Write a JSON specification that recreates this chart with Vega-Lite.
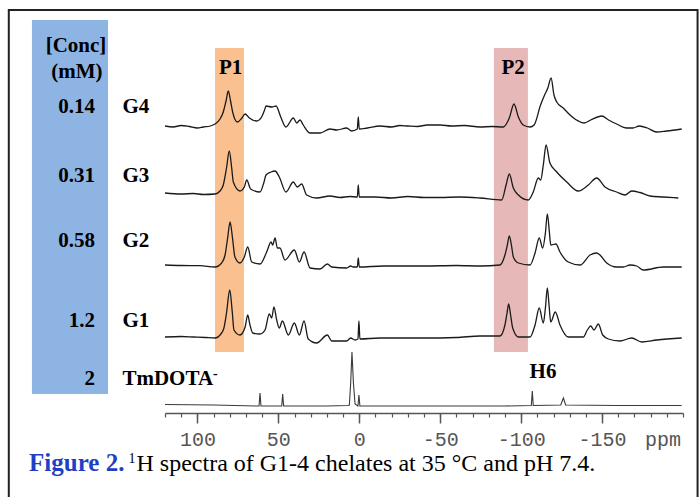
{
"$schema":"https://vega.github.io/schema/vega-lite/v6.json",
"width":518,"height":403,
"autosize":{"type":"none"},
"padding":{"left":165,"top":10,"right":16,"bottom":84},
"background":"white",
"config":{"view":{"stroke":null}},
"resolve":{"axis":{"x":"independent","y":"independent"}},
"datasets":{
"spectra":[
{"s":"G4","x":120,"y":287},{"s":"G4","x":115,"y":286},{"s":"G4","x":110,"y":287.5},{"s":"G4","x":105,"y":286.5},{"s":"G4","x":100,"y":285},{"s":"G4","x":96.3,"y":286},{"s":"G4","x":92,"y":287},{"s":"G4","x":89.1,"y":289},{"s":"G4","x":86,"y":294},{"s":"G4","x":84,"y":301},{"s":"G4","x":82.3,"y":312},{"s":"G4","x":80.9,"y":322},{"s":"G4","x":79.5,"y":312},{"s":"G4","x":78.2,"y":301},{"s":"G4","x":75.3,"y":291},{"s":"G4","x":72.5,"y":295},{"s":"G4","x":70.6,"y":299},{"s":"G4","x":67.9,"y":295},{"s":"G4","x":63.4,"y":292},{"s":"G4","x":60.3,"y":296},{"s":"G4","x":58.5,"y":303},{"s":"G4","x":57.6,"y":307},{"s":"G4","x":54,"y":306},{"s":"G4","x":51.4,"y":307},{"s":"G4","x":48.5,"y":296},{"s":"G4","x":45.3,"y":286},{"s":"G4","x":40.7,"y":295},{"s":"G4","x":38.6,"y":290},{"s":"G4","x":36.6,"y":293},{"s":"G4","x":34.6,"y":288},{"s":"G4","x":30.4,"y":280},{"s":"G4","x":24.2,"y":280},{"s":"G4","x":18.1,"y":284},{"s":"G4","x":13.9,"y":283},{"s":"G4","x":7.8,"y":285},{"s":"G4","x":4.7,"y":282},{"s":"G4","x":1.2,"y":284},{"s":"G4","x":0.6,"y":296},{"s":"G4","x":0,"y":284},{"s":"G4","x":-5,"y":285},{"s":"G4","x":-12.8,"y":287},{"s":"G4","x":-20,"y":286},{"s":"G4","x":-25,"y":287.5},{"s":"G4","x":-30,"y":287},{"s":"G4","x":-36,"y":286.5},{"s":"G4","x":-42,"y":288},{"s":"G4","x":-50,"y":288},{"s":"G4","x":-57,"y":287},{"s":"G4","x":-65,"y":287.5},{"s":"G4","x":-74.6,"y":286},{"s":"G4","x":-82,"y":286.5},{"s":"G4","x":-89,"y":286},{"s":"G4","x":-92.7,"y":295},{"s":"G4","x":-95.6,"y":309},{"s":"G4","x":-98.3,"y":296},{"s":"G4","x":-101.3,"y":288},{"s":"G4","x":-105.5,"y":286},{"s":"G4","x":-108,"y":288},{"s":"G4","x":-112,"y":308},{"s":"G4","x":-114.5,"y":318},{"s":"G4","x":-116.5,"y":325},{"s":"G4","x":-118.5,"y":335},{"s":"G4","x":-120.3,"y":318},{"s":"G4","x":-122,"y":311},{"s":"G4","x":-126,"y":305},{"s":"G4","x":-130.2,"y":298},{"s":"G4","x":-136.6,"y":291},{"s":"G4","x":-139,"y":290},{"s":"G4","x":-143,"y":293},{"s":"G4","x":-149.8,"y":297},{"s":"G4","x":-154,"y":293},{"s":"G4","x":-159,"y":289},{"s":"G4","x":-165,"y":285},{"s":"G4","x":-169,"y":285},{"s":"G4","x":-173,"y":287},{"s":"G4","x":-178,"y":285},{"s":"G4","x":-183.7,"y":281},{"s":"G4","x":-189.9,"y":282},{"s":"G4","x":-199.2,"y":284},
{"s":"G3","x":120,"y":220},{"s":"G3","x":110,"y":219},{"s":"G3","x":102.5,"y":219.5},{"s":"G3","x":96.3,"y":218.5},{"s":"G3","x":89.1,"y":219},{"s":"G3","x":86,"y":222},{"s":"G3","x":84,"y":228},{"s":"G3","x":82,"y":245},{"s":"G3","x":80.3,"y":262},{"s":"G3","x":78.8,"y":245},{"s":"G3","x":77.8,"y":231},{"s":"G3","x":73.7,"y":222},{"s":"G3","x":71,"y":226},{"s":"G3","x":69.5,"y":233},{"s":"G3","x":67.1,"y":224},{"s":"G3","x":61.3,"y":221},{"s":"G3","x":59,"y":230},{"s":"G3","x":57.6,"y":238},{"s":"G3","x":54.5,"y":241},{"s":"G3","x":52,"y":242},{"s":"G3","x":49.4,"y":236},{"s":"G3","x":45.3,"y":221},{"s":"G3","x":40.7,"y":231},{"s":"G3","x":38.3,"y":226},{"s":"G3","x":35.6,"y":229},{"s":"G3","x":32.5,"y":218},{"s":"G3","x":26.3,"y":215},{"s":"G3","x":18.1,"y":217},{"s":"G3","x":11.9,"y":215.5},{"s":"G3","x":5.7,"y":216.5},{"s":"G3","x":1.2,"y":216},{"s":"G3","x":0.6,"y":228},{"s":"G3","x":0,"y":216},{"s":"G3","x":-10,"y":216},{"s":"G3","x":-20,"y":215},{"s":"G3","x":-30,"y":216.5},{"s":"G3","x":-40,"y":215.5},{"s":"G3","x":-50,"y":215.5},{"s":"G3","x":-62,"y":216},{"s":"G3","x":-74.6,"y":215},{"s":"G3","x":-88,"y":213},{"s":"G3","x":-90.7,"y":228},{"s":"G3","x":-92.7,"y":239},{"s":"G3","x":-95.2,"y":225},{"s":"G3","x":-98.3,"y":218},{"s":"G3","x":-104.4,"y":213},{"s":"G3","x":-107.5,"y":221},{"s":"G3","x":-110.6,"y":235},{"s":"G3","x":-112.1,"y":233},{"s":"G3","x":-113.7,"y":248},{"s":"G3","x":-115.4,"y":268},{"s":"G3","x":-117.8,"y":250},{"s":"G3","x":-122,"y":241},{"s":"G3","x":-128.2,"y":231},{"s":"G3","x":-135.3,"y":222},{"s":"G3","x":-141.5,"y":228},{"s":"G3","x":-146.7,"y":235},{"s":"G3","x":-151.8,"y":226},{"s":"G3","x":-159,"y":221},{"s":"G3","x":-164.2,"y":218},{"s":"G3","x":-168.3,"y":222},{"s":"G3","x":-173.4,"y":220.5},{"s":"G3","x":-179.6,"y":217},{"s":"G3","x":-187.8,"y":216},{"s":"G3","x":-197.1,"y":215},
{"s":"G2","x":120,"y":148},{"s":"G2","x":110,"y":147.5},{"s":"G2","x":98.4,"y":147.3},{"s":"G2","x":89.1,"y":146},{"s":"G2","x":85,"y":150},{"s":"G2","x":82.9,"y":158},{"s":"G2","x":81.3,"y":175},{"s":"G2","x":79.8,"y":191},{"s":"G2","x":78.3,"y":175},{"s":"G2","x":76.8,"y":156},{"s":"G2","x":73.7,"y":150},{"s":"G2","x":71,"y":156},{"s":"G2","x":68.9,"y":166},{"s":"G2","x":66.4,"y":151},{"s":"G2","x":61.3,"y":149},{"s":"G2","x":57.2,"y":161},{"s":"G2","x":54.5,"y":171},{"s":"G2","x":53.5,"y":168},{"s":"G2","x":52,"y":175},{"s":"G2","x":50.6,"y":165},{"s":"G2","x":49,"y":165},{"s":"G2","x":45.9,"y":153},{"s":"G2","x":40.1,"y":163},{"s":"G2","x":37,"y":151},{"s":"G2","x":34.1,"y":161},{"s":"G2","x":30.4,"y":145},{"s":"G2","x":24.2,"y":144},{"s":"G2","x":19.7,"y":149},{"s":"G2","x":17,"y":146},{"s":"G2","x":7.8,"y":145},{"s":"G2","x":5.3,"y":147},{"s":"G2","x":3.7,"y":146},{"s":"G2","x":1.2,"y":146},{"s":"G2","x":0.6,"y":155},{"s":"G2","x":0,"y":146},{"s":"G2","x":-15,"y":147},{"s":"G2","x":-40,"y":147},{"s":"G2","x":-60,"y":147.5},{"s":"G2","x":-74.6,"y":147},{"s":"G2","x":-86.9,"y":148},{"s":"G2","x":-90,"y":158},{"s":"G2","x":-91.5,"y":168},{"s":"G2","x":-92.7,"y":177},{"s":"G2","x":-94,"y":168},{"s":"G2","x":-95.2,"y":156},{"s":"G2","x":-98.3,"y":150},{"s":"G2","x":-105.5,"y":148},{"s":"G2","x":-108.6,"y":160},{"s":"G2","x":-111.2,"y":175},{"s":"G2","x":-113.3,"y":165},{"s":"G2","x":-115,"y":180},{"s":"G2","x":-116.2,"y":199},{"s":"G2","x":-117.5,"y":180},{"s":"G2","x":-118.3,"y":168},{"s":"G2","x":-121.5,"y":169},{"s":"G2","x":-124,"y":161},{"s":"G2","x":-129.1,"y":151},{"s":"G2","x":-136.4,"y":148},{"s":"G2","x":-142.6,"y":158},{"s":"G2","x":-146.7,"y":160},{"s":"G2","x":-148.7,"y":158},{"s":"G2","x":-152.9,"y":150},{"s":"G2","x":-159,"y":146},{"s":"G2","x":-163.1,"y":146},{"s":"G2","x":-167.3,"y":148},{"s":"G2","x":-171.4,"y":147},{"s":"G2","x":-175.5,"y":143},{"s":"G2","x":-187.8,"y":146},{"s":"G2","x":-199.2,"y":146},
{"s":"G1","x":120,"y":76},{"s":"G1","x":110,"y":76.5},{"s":"G1","x":102.5,"y":76},{"s":"G1","x":95,"y":75.5},{"s":"G1","x":89.1,"y":75},{"s":"G1","x":85.5,"y":79},{"s":"G1","x":83.6,"y":85},{"s":"G1","x":82,"y":100},{"s":"G1","x":80,"y":123},{"s":"G1","x":78.5,"y":102},{"s":"G1","x":77.4,"y":83},{"s":"G1","x":73.7,"y":78},{"s":"G1","x":70.5,"y":86},{"s":"G1","x":68.9,"y":98},{"s":"G1","x":67.5,"y":88},{"s":"G1","x":65.8,"y":80},{"s":"G1","x":61.3,"y":79},{"s":"G1","x":58.2,"y":83},{"s":"G1","x":55.6,"y":99},{"s":"G1","x":54.1,"y":95},{"s":"G1","x":52.7,"y":106},{"s":"G1","x":51,"y":93},{"s":"G1","x":49.4,"y":85},{"s":"G1","x":47.5,"y":92},{"s":"G1","x":43.8,"y":78},{"s":"G1","x":40.1,"y":90},{"s":"G1","x":37,"y":78},{"s":"G1","x":34.1,"y":92},{"s":"G1","x":31.5,"y":74},{"s":"G1","x":26.3,"y":70},{"s":"G1","x":19.7,"y":78},{"s":"G1","x":17,"y":72},{"s":"G1","x":7.8,"y":72},{"s":"G1","x":5.3,"y":75},{"s":"G1","x":2.6,"y":73},{"s":"G1","x":0.8,"y":74},{"s":"G1","x":0.2,"y":92},{"s":"G1","x":-0.4,"y":74},{"s":"G1","x":-12.8,"y":75},{"s":"G1","x":-40,"y":75},{"s":"G1","x":-60,"y":75.5},{"s":"G1","x":-74.6,"y":77},{"s":"G1","x":-86.9,"y":77},{"s":"G1","x":-90,"y":88},{"s":"G1","x":-91.3,"y":100},{"s":"G1","x":-92.3,"y":109},{"s":"G1","x":-93.5,"y":98},{"s":"G1","x":-94.8,"y":85},{"s":"G1","x":-98.3,"y":76},{"s":"G1","x":-105.5,"y":76},{"s":"G1","x":-108.6,"y":88},{"s":"G1","x":-111.2,"y":105},{"s":"G1","x":-113.7,"y":90},{"s":"G1","x":-115,"y":105},{"s":"G1","x":-116.2,"y":125},{"s":"G1","x":-117.4,"y":105},{"s":"G1","x":-118.3,"y":91},{"s":"G1","x":-121.1,"y":101},{"s":"G1","x":-124,"y":88},{"s":"G1","x":-129.1,"y":76},{"s":"G1","x":-138.4,"y":76},{"s":"G1","x":-140.9,"y":83},{"s":"G1","x":-143,"y":87},{"s":"G1","x":-145,"y":83},{"s":"G1","x":-147.7,"y":89},{"s":"G1","x":-150.4,"y":78},{"s":"G1","x":-153.9,"y":74},{"s":"G1","x":-161.1,"y":72},{"s":"G1","x":-168.3,"y":75},{"s":"G1","x":-174.5,"y":71},{"s":"G1","x":-183.8,"y":73},{"s":"G1","x":-199.2,"y":75}
],
"tm":[
{"x":120,"y":8.5},{"x":90,"y":8},{"x":63.4,"y":7},{"x":61.9,"y":7},{"x":61.3,"y":20},{"x":60.7,"y":7},{"x":47.9,"y":7},{"x":47.3,"y":19},{"x":46.7,"y":7},{"x":20,"y":7},{"x":7,"y":7.5},{"x":6.1,"y":8},{"x":5.3,"y":30},{"x":4.5,"y":61},{"x":3.6,"y":30},{"x":2.6,"y":9},{"x":0.8,"y":7},{"x":0.2,"y":18},{"x":-0.4,"y":7},{"x":-30,"y":7},{"x":-60,"y":7},{"x":-90,"y":7},{"x":-106.3,"y":7.5},{"x":-106.9,"y":22},{"x":-107.5,"y":7.5},{"x":-124.5,"y":8},{"x":-126.1,"y":15},{"x":-127.5,"y":8},{"x":-160,"y":7.5},{"x":-199.2,"y":7.5}
]
},
"layer":[
{"data":{"values":[{"x1":216.5,"x2":-209,"y1":403,"y2":-100}]},
 "mark":{"type":"rect","filled":false,"color":"#222222","strokeWidth":2},
 "encoding":{"x":{"field":"x1","type":"quantitative","scale":{"domain":[-200,120],"reverse":true,"nice":false,"zero":false},"axis":null},"x2":{"field":"x2"},
 "y":{"field":"y1","type":"quantitative","scale":{"domain":[0,403],"nice":false,"zero":false},"axis":null},"y2":{"field":"y2"}}},
{"data":{"values":[{"x1":202.2,"x2":155.2,"y1":393,"y2":19}]},
 "mark":{"type":"rect","color":"#8DB4E2","opacity":1},
 "encoding":{"x":{"field":"x1","type":"quantitative","axis":null},"x2":{"field":"x2"},"y":{"field":"y1","type":"quantitative","axis":null},"y2":{"field":"y2"}}},
{"data":{"values":[{"x1":89.1,"x2":71.2,"y1":365,"y2":61}]},
 "mark":{"type":"rect","color":"#FAC08F","opacity":1},
 "encoding":{"x":{"field":"x1","type":"quantitative","axis":null},"x2":{"field":"x2"},"y":{"field":"y1","type":"quantitative","axis":null},"y2":{"field":"y2"}}},
{"data":{"values":[{"x1":-83.2,"x2":-104.2,"y1":365,"y2":61}]},
 "mark":{"type":"rect","color":"#E6B8B7","opacity":1},
 "encoding":{"x":{"field":"x1","type":"quantitative","axis":null},"x2":{"field":"x2"},"y":{"field":"y1","type":"quantitative","axis":null},"y2":{"field":"y2"}}},
{"data":{"name":"spectra"},
 "mark":{"type":"line","color":"#1a1a1a","strokeWidth":1.3,"interpolate":"monotone"},
 "encoding":{"x":{"field":"x","type":"quantitative","axis":{"orient":"bottom","values":[100,50,0,-50,-100,-150],"labelExpr":"'' + datum.value","tickSize":10,"tickColor":"#555555","tickWidth":1.5,"domain":true,"domainColor":"#555555","domainWidth":1.5,"grid":false,"title":null,"labelFont":"Liberation Mono","labelFontSize":20,"labelColor":"#555555","labelBaseline":"alphabetic","labelPadding":22,"labelFlush":false,"labelOverlap":false}},
 "y":{"field":"y","type":"quantitative","axis":null},"detail":{"field":"s"}}},
{"data":{"name":"tm"},
 "mark":{"type":"line","color":"#3a3a3a","strokeWidth":1.1},
 "encoding":{"x":{"field":"x","type":"quantitative","axis":{"orient":"bottom","values":[120,110,100,90,80,70,60,50,40,30,20,10,0,-10,-20,-30,-40,-50,-60,-70,-80,-90,-100,-110,-120,-130,-140,-150,-160,-170,-180,-190,-200],"tickSize":4,"tickColor":"#555555","tickWidth":1.2,"domain":false,"labels":false,"grid":false,"title":null}},
 "y":{"field":"y","type":"quantitative","axis":null}}},
{"data":{"values":[{"x":175,"y":361,"t":"[Conc]"},{"x":174.4,"y":335,"t":"(mM)"},{"x":79.5,"y":339,"t":"P1"},{"x":-95,"y":339,"t":"P2"},{"x":-113.5,"y":34.7,"t":"H6"}]},
 "mark":{"type":"text","font":"Liberation Serif","fontWeight":"bold","fontSize":21,"align":"center","baseline":"alphabetic","color":"#000000"},
 "encoding":{"x":{"field":"x","type":"quantitative","axis":null},"y":{"field":"y","type":"quantitative","axis":null},"text":{"field":"t"}}},
{"data":{"values":[{"x":163.2,"y":300,"t":"0.14"},{"x":163.2,"y":231,"t":"0.31"},{"x":163.2,"y":166,"t":"0.58"},{"x":163.2,"y":86,"t":"1.2"},{"x":163.2,"y":28,"t":"2"}]},
 "mark":{"type":"text","font":"Liberation Serif","fontWeight":"bold","fontSize":21,"align":"right","baseline":"alphabetic","color":"#000000"},
 "encoding":{"x":{"field":"x","type":"quantitative","axis":null},"y":{"field":"y","type":"quantitative","axis":null},"text":{"field":"t"}}},
{"data":{"values":[{"x":146.3,"y":300,"t":"G4"},{"x":146.3,"y":231,"t":"G3"},{"x":146.3,"y":166,"t":"G2"},{"x":146.3,"y":86,"t":"G1"},{"x":146.3,"y":28,"t":"TmDOTA"}]},
 "mark":{"type":"text","font":"Liberation Serif","fontWeight":"bold","fontSize":21,"align":"left","baseline":"alphabetic","color":"#000000"},
 "encoding":{"x":{"field":"x","type":"quantitative","axis":null},"y":{"field":"y","type":"quantitative","axis":null},"text":{"field":"t"}}},
{"data":{"values":[{"x":90.3,"y":39,"t":"-"}]},
 "mark":{"type":"text","font":"Liberation Serif","fontWeight":"bold","fontSize":14,"align":"left","baseline":"middle","color":"#000000"},
 "encoding":{"x":{"field":"x","type":"quantitative","axis":null},"y":{"field":"y","type":"quantitative","axis":null},"text":{"field":"t"}}},
{"data":{"values":[{"x":204,"y":-58,"t":"Figure 2."}]},
 "mark":{"type":"text","font":"Liberation Serif","fontWeight":"bold","fontSize":25,"align":"left","baseline":"alphabetic","color":"#1F3FC4"},
 "encoding":{"x":{"field":"x","type":"quantitative","axis":null},"y":{"field":"y","type":"quantitative","axis":null},"text":{"field":"t"}}},
{"data":{"values":[{"x":142.6,"y":-50,"t":"1"}]},
 "mark":{"type":"text","font":"Liberation Serif","fontSize":14,"align":"left","baseline":"alphabetic","color":"#000000"},
 "encoding":{"x":{"field":"x","type":"quantitative","axis":null},"y":{"field":"y","type":"quantitative","axis":null},"text":{"field":"t"}}},
{"data":{"values":[{"x":137.6,"y":-58,"t":"H spectra of G1-4 chelates at 35 °C and pH 7.4."}]},
 "mark":{"type":"text","font":"Liberation Serif","fontSize":24,"align":"left","baseline":"alphabetic","color":"#000000"},
 "encoding":{"x":{"field":"x","type":"quantitative","axis":null},"y":{"field":"y","type":"quantitative","axis":null},"text":{"field":"t"}}},
{"data":{"values":[{"x":-187.6,"y":-32.5,"t":"ppm"}]},
 "mark":{"type":"text","font":"Liberation Mono","fontSize":20,"align":"center","baseline":"alphabetic","color":"#555555"},
 "encoding":{"x":{"field":"x","type":"quantitative","axis":null},"y":{"field":"y","type":"quantitative","axis":null},"text":{"field":"t"}}}
]
}
